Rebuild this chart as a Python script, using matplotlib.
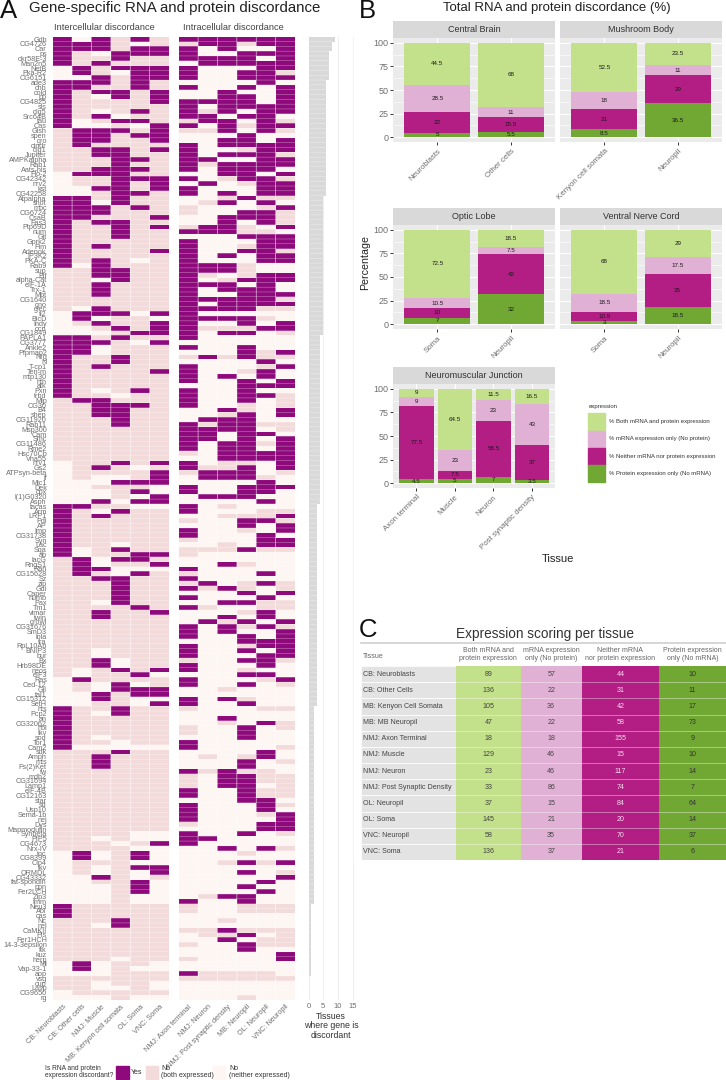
import numpy as np
import matplotlib
matplotlib.use("Agg")
from matplotlib import pyplot as plt
from matplotlib.colors import ListedColormap
from matplotlib.patches import Rectangle

plt.rcParams['font.family'] = ['Liberation Sans', 'DejaVu Sans']

W, H = 726, 1080

# ---- panel A data
genes = [
    "Gdh", "CG4726", "Car", "ps", "okr58E-3", "Man2n5", "NetB", "Pka-R2", "CG6151", "ade3",
    "chb", "cold", "pp", "CG4825", "sls", "dlg5", "Src64B", "tau", "Cas", "Gish",
    "spen", "gro", "cindr", "dlg1", "Jupiter", "AMPKalpha", "Rab1", "Aats-his", "Flo-2", "CG42342",
    "nrv2", "kst", "CG42258", "Atpalpha", "shot", "mbc", "CG6724", "CsaB", "Fas3", "Ptp69D",
    "num", "Git", "Gprk2", "Fim", "Adenok", "IP3K2", "PKA-C", "Rab9", "sup", "Elf",
    "alpha-Cat", "eIF-1A", "Trx-1", "Mbt", "CG1640", "gno", "glec", "fl2", "BicD", "Indy",
    "ocn", "CG1849", "PAPLA1", "CG3777", "Ankle2", "Pfpmap2", "Nrg", "N", "T-cp1", "Ten-m",
    "mtp130", "hth", "atk", "Pxn", "trbd", "Mlp", "CG30", "B4", "shep", "CG11920",
    "Rab11", "Msp300", "Cam", "Smc", "CG11486", "Rme2", "Hsc70Cb", "Vha55", "nrv1", "Gs2",
    "ATPsyn-beta", "if", "Mic1", "Dek", "cpx", "l(1)G0320", "Asph", "tacas", "Arm", "LRP1",
    "Pdi", "AP", "Imp", "CG31738", "Syn", "Lac", "Sqa", "ab", "lacG", "RngS1",
    "Ran", "CG15628", "Sz", "zip", "Gdi", "Caper", "numb", "Pax", "Tm1", "vimar",
    "twin", "growl", "CG31676", "SmD3", "lola", "fra", "RpL10Ab", "BNIP3", "bur", "Bx",
    "Hrb98DE", "neos", "eIF3", "Ras", "Ced-12", "Gil", "tal1", "CG15312", "SetH", "hts",
    "Pcp2", "an", "CG32062", "hbl", "fkv", "sod", "Tor1", "Cam2", "sdk", "Amph",
    "mts", "Fs(2)Ket", "fw", "mdh2", "CG31694", "Lamp1", "eIF-4B", "CG12163", "star", "sd",
    "Usp10", "Sema-1b", "nej", "Dys", "Mapmodulin", "Synbeta", "PIP5", "CG4673", "Nrx-IV", "tnc",
    "CG8399", "Cip4", "tkv", "ORMDL", "CG43332", "fat-spondin", "ppn", "Fer2LCH", "Zip3", "fmm",
    "Neu3", "Abl", "cas", "Nc", "nel", "CaMKII", "Pis", "Fer1HCH", "14-3-3epsilon", "ftk",
    "kuz", "herp", "Mi", "Vap-33-1", "aop", "vsg", "cup", "Lasp", "CG9650", "rg",
]

# Y = yes, B = no (both expressed), N = no (neither expressed); inter | intra
row_codes = [
    "YNYBYB YYYYYY", "YYYBNB BYYBYY", "YYYBYY YNYNNY", "YBNYYY YNNYYY", "YBBYBB YYYYNY",
    "YBYBBB NYYYYY", "NYBYYY YNNNYY", "NYBNYY YNNYYB", "NNYBYY YNNYYY", "YYYBYB NNNNYN",
    "YYBBYB YNNYNY", "YBYYBY NNYNNY", "YBNYBY NNYYNY", "YBBBBY YYYYNY", "YBBBBB YNYYYY",
    "YBNBYB YBYNYY", "YBYNBB YYNYYN", "YNBYYB BYYNYB", "YNNBNY YNYBYY", "BYYYBY BBYNYB",
    "BYYBYY NNNYNN", "BYYBBY NNYYNY", "BYBBBB YNYYYY", "BBYYBY YNNBYY", "BBYYBB YNYYYB",
    "BBBYYB YYNNYY", "BBBYBB YBYYYY", "BBYYYB YNYYYN", "NYYYBB NNYYNY", "NBBYYY YNBYYB",
    "NBBYBY NYNBYY", "NNYYBY YNNNYY", "NNBYYB YNYNYY", "YYBYBB NNBYBB", "YYNYBB NBYNYN",
    "YYYBYB BNNNBY", "YYYBBB BNNYYB", "YYBBBY NNYYYB", "YBYYBB NNYNYB", "YBBYBY BYYBNY",
    "YBBYBB YYYBBN", "YBBYBB NNNYYY", "YBBBBB YNNNYY", "YBYBBB YNNBYY", "YBBBBY YNNYYB",
    "YBBBBB YNYNYY", "YBYBNB YNNNYY", "YNYBBB YYYBNN", "BBYYBB YYYBNN", "BBYYBB YBNBYY",
    "BBNYBB YNBYYY", "BBYBBB YYYNYN", "BBYBBB YNYYYN", "BBYBBB YNNYYY", "BBBBBB YYYYYB",
    "BBBBBB YNYYYY", "BNYBBB YYYYBB", "NYYYNY YNNNNN", "NYNBBN YYYYBN", "NBYBBY YNNYNY",
    "NNBYBY YBBBYY", "NNNBYY YNYYNB", "YYBYBB YNNNNN", "YYYBNY NNNNNN", "YYNBBB YNNYNN",
    "YYNBBB NNNYBY", "YBBYBB BYBYBB", "YBBYBB NNNNYN", "YBYBBB YNNNBY", "YBBBBY YNNBYN",
    "YBBBBB YNYNYN", "YBBBBB YNNYNY", "YBBBBB NNNYYY", "YBNBYB YNNYNN", "YBBNBB YNNYYB",
    "BYYBBB YNNYNB", "BBYYYB YNNBNB", "BBYYBB NNYBNY", "BBYYBB NNBYNY", "BBBYBB NYYYNN",
    "BBBYBB YBYYBB", "BBBBBB YYYYNB", "BBBBBB YYNYYN", "BBBBBB YYNYNY", "BBBBBB YNYYBY",
    "BBBBBB YNYYNY", "BBBBBB BNYYYY", "BBBBBB NNYYYY", "NBBYBY YNBBNY", "NBYBNB YBBYNY",
    "NBBBBY BYYYNB", "NBNNBY NYYYBN", "NNNYYY NNNNYN", "NNBBBN YNNYYY", "NNNBYN YNNYYN",
    "NNNBNY NYYYNN", "NNYNYY NNNNYN", "YYBBNN YNBNNN", "YBNYBB YNNNBB", "YBYBBB NNBBBY",
    "YBBBBB BNNYYB", "YBBBBB NNNYNY", "YBBBBB YNNBNY", "YBBBBB YNNNYN", "YBBBBB BNNNYY",
    "YBBNBB NNBNYY", "YNBYBB BBBYBB", "YNBBYY BNNNNN", "BYNYYB NNNNNN", "BYNBBY NNYBNN",
    "BYYNNN YNNNNN", "BYBNYB BNNNYN", "BBYYBB YNNNNN", "BBBYBB BYNBYB", "BBBYBB YBYBNB",
    "BBBYBB NNNYNY", "BBBYBB YNNNYN", "BBNYBB NNYYBB", "BBBBYB YBNNBB", "BBYBBY NNNBYN",
    "BBYBBB NNYNYN", "BBBBBB NYBYNY", "BBBBBB YNYBYB", "BBBBBB YNYNNY", "BBBBBB YNNYNY",
    "BBBBBB NNNYYY", "BBBBBB YNNBYY", "BBNBBB YNNYNY", "BBNBBB YNNNYY", "BBYNBB BNNYYB",
    "BBYNBB YNNNYN", "BNBYBY YNNBNN", "BNBBYN NNNYYN", "NYBBBB YNNNBY", "NBNYNB YNNYNB",
    "NBNYYY NNBNNN", "NNYBYY NNNNNN", "NNYBNN YNYBNN", "NNBBNY YNNYNN", "YBBYBB BNNNBB",
    "YBNYBB NNNNNN", "YBBBBB NNYNNN", "YBBBBB NNBNYB", "YBBBBB BNNYNB", "YBBBBB BNNYNN",
    "YBNBBB NNNYNN", "YBBNBB YNNNNN", "YNNNNN YNNNNB", "BBBYBB NNNNYN", "BBYBBB NBNBYN",
    "BBYBBB NNNYNB", "BBYBBB NNNYNN", "BBBBBB YBYBBN", "BBBBBB BNYYBB", "BBBBBB BNYYBB",
    "BBBBBB BNYYNB", "BBBBBB YNNYBB", "BBBBBB YNNYBB", "BBBBBB NNNYYN", "BBBBBB YNNNYB",
    "BBBBBB YNNNYN", "BBBBBB YNNNBY", "BBBBBB YNNNNY", "BBBBBB BNNNYY", "BBBBBB NNNNYY",
    "BBBBNN YNNYNB", "BBNBNN YYNNNN", "BBBNBY YNNNNN", "BBBBNN NNYNYB", "NYNBYN NNNBNN",
    "NYNBYN NNNNNN", "NBBBNN NNBYBY", "NBNBYY NNNNNN", "NBNBNY NNNYNB", "NNYBNB NNNNNY",
    "NNBBYN NNNNYN", "NNNBYN NNNYNN", "NNNBYN NNNNYN", "NNNBNN NBYYNN", "NNNBNN YNNYNN",
    "YBBBBB BNNBBB", "YBBBBB BNNBBB", "YBBBBB NNNNNN", "BBBYBB NNBNNN", "BBNYBB NNNNNN",
    "BBBBBB BBYBBB", "BBBBBB NBBYNB", "BBBBBB NNYNBB", "BBBBBB BNNYBB", "BBBBBB NNNYNN",
    "BBBBBB NNNNNY", "BBBNBB BNNNNY", "NYNBBN NNNNNN", "NYNBNN NNNNNN", "NNNBBB YBBBBN",
    "BBBBBB BBBBBB", "BBNBBN NNNNNN", "BBNNBN NNNNNN", "NBBBBB NNNNNN", "NNNBNN NNNBNN",
]

inter_labels = ["CB: Neuroblasts", "CB: Other cells", "NMJ: Muscle", "MB: Kenyon cell somata",
                "OL: Soma", "VNC: Soma"]
intra_labels = ["NMJ: Axon terminal", "NMJ: Neuron", "NMJ: Post synaptic density", "MB: Neuropil",
                "OL: Neuropil", "VNC: Neuropil"]

# how many tissues, how many genes in a row with that count
count_values = [9, 8, 7, 6, 5, 4, 3, 2, 1, 0]
count_genes = [1, 2, 6, 24, 29, 35, 42, 41, 15, 5]

# ---- panel B data
facet_names = ["Central Brain", "Mushroom Body", "Optic Lobe", "Ventral Nerve Cord", "Neuromuscular Junction"]
facet_tissues = [
    ["Neuroblasts", "Other cells"],
    ["Kenyon cell somata", "Neuropil"],
    ["Soma", "Neuropil"],
    ["Soma", "Neuropil"],
    ["Axon terminal", "Muscle", "Neuron", "Post synaptic density"],
]
pct_protein = [[5, 5.5], [8.5, 36.5], [7, 32], [3, 18.5], [4.5, 5, 7, 3.5]]
pct_neither = [[22, 15.5], [21, 29], [10, 42], [10.5, 35], [77.5, 7.5, 58.5, 37]]
pct_mrna = [[28.5, 11], [18, 11], [10.5, 7.5], [18.5, 17.5], [9, 23, 23, 43]]
pct_both = [[44.5, 68], [52.5, 23.5], [72.5, 18.5], [68, 29], [9, 64.5, 11.5, 16.5]]
expr_labels = ["% Both mRNA and protein expression", "% mRNA expression only (No protein)",
               "% Neither mRNA nor protein expression", "% Protein expression only (No mRNA)"]

# ---- panel C data
table_tissues = ["CB: Neuroblasts", "CB: Other Cells", "MB: Kenyon Cell Somata", "MB: MB Neuropil",
                 "NMJ: Axon Terminal", "NMJ: Muscle", "NMJ: Neuron", "NMJ: Post Synaptic Density",
                 "OL: Neuropil", "OL: Soma", "VNC: Neuropil", "VNC: Soma"]
table_both = [89, 136, 105, 47, 18, 129, 23, 33, 37, 145, 58, 136]
table_mrna = [57, 22, 36, 22, 18, 46, 46, 86, 15, 21, 35, 37]
table_neither = [44, 31, 42, 58, 155, 15, 117, 74, 84, 20, 70, 21]
table_protein = [10, 11, 17, 73, 9, 10, 14, 7, 64, 14, 37, 6]
table_heads = ["Both mRNA and\nprotein expression", "mRNA expression\nonly (No protein)",
               "Neither mRNA\nnor protein expression", "Protein expression\nonly (No mRNA)"]

# colours
PURPLE, PINK, PALE = "#8E0A7C", "#F4DBDB", "#FDF6F2"
C_BOTH, C_MRNA, C_NEITHER, C_PROT = "#C3E08B", "#E1B0D5", "#B21E84", "#71A834"
GREY_TXT = "#6E6E6E"

fig = plt.figure(figsize=(W / 100, H / 100), dpi=100, facecolor="white")


def px_axes(x0, y0, x1, y1):
    return fig.add_axes([x0 / W, 1 - y1 / H, (x1 - x0) / W, (y1 - y0) / H])


def px_text(x, y, s, **kw):
    kw.setdefault("va", "center")
    return fig.text(x / W, 1 - y / H, s, **kw)


# faint rule beside panels B and C
fig.add_artist(plt.Line2D([352.7 / W] * 2, [1 - 37 / H, 1 - 860 / H], color="#F3F3F3", lw=0.8))

# ---- panel A
code_map = {"Y": 2, "B": 1, "N": 0}
cmap = ListedColormap([PALE, PINK, PURPLE])
n_rows = len(genes)


def heat(ax, codes, labels):
    mat = np.array([[code_map[c] for c in s] for s in codes])
    ax.pcolormesh(np.arange(7), np.arange(n_rows + 1), mat, cmap=cmap, vmin=0, vmax=2)
    ax.hlines(np.arange(1, n_rows), 0, 6, color="white", lw=0.3, alpha=0.6, snap=False)
    ax.vlines(np.arange(1, 6), 0, n_rows, color="white", lw=0.45, alpha=0.8, snap=False)
    ax.set_ylim(n_rows, 0)
    ax.set_xlim(0, 6)
    for s in ax.spines.values():
        s.set_visible(False)
    ax.set_xticks(np.arange(6) + 0.5)
    ax.set_xticklabels(labels, rotation=45, ha="right", rotation_mode="anchor",
                       fontsize=5.2, color=GREY_TXT)
    ax.tick_params(axis="x", length=0, pad=2.5)


ax_inter = px_axes(52.7, 36.7, 169, 1000)
heat(ax_inter, [s.split()[0] for s in row_codes], inter_labels)
ax_inter.set_yticks(np.arange(n_rows) + 0.5)
ax_inter.set_yticklabels(genes, fontsize=5.2, color=GREY_TXT)
ax_inter.tick_params(axis="y", length=0, pad=4.2)

ax_intra = px_axes(178.7, 36.7, 295, 1000)
heat(ax_intra, [s.split()[1] for s in row_codes], intra_labels)
ax_intra.set_yticks([])

gene_counts = np.repeat(count_values, count_genes)
ax_bar = px_axes(304, 36.7, 354, 1000)
ax_bar.barh(np.arange(n_rows) + 0.5, gene_counts, height=1, color="#D9D9D9")
ax_bar.hlines(np.arange(1, n_rows), 0, gene_counts[1:], color="white", lw=0.3, alpha=0.6, snap=False)
ax_bar.set_ylim(n_rows, 0)
ax_bar.set_xlim(-1.54, 15.5)
ax_bar.set_xticks([0, 5, 10, 15])
ax_bar.set_yticks([])
ax_bar.grid(axis="x", color="#EFEFEF", lw=0.7)
ax_bar.set_axisbelow(True)
ax_bar.tick_params(axis="x", length=0, labelsize=5.5, labelcolor=GREY_TXT, pad=2)
for s in ax_bar.spines.values():
    s.set_visible(False)

px_text(0, 18, "A", fontsize=18.5, color="#111111", va="baseline")
px_text(29, 8, "Gene-specific RNA and protein discordance", fontsize=10.8, color="#222222")
px_text(54, 27, "Intercellular discordance", fontsize=6.7, color="#444444")
px_text(183.5, 27, "Intracellular discordance", fontsize=6.7, color="#444444")
px_text(331, 1026, "Tissues\nwhere gene is\ndiscordant", fontsize=6.3, color="#333333", ha="center",
        linespacing=1.05)

# legend under the heatmap
px_text(45, 1072, "Is RNA and protein\nexpression discordant?", fontsize=4.8, color="#333333", linespacing=1.05)
for x0, x1, col in [(116, 128.5, PURPLE), (146, 157.5, PINK), (213, 225, PALE)]:
    fig.add_artist(Rectangle((x0 / W, 1 - 1079 / H), (x1 - x0) / W, 13 / H, color=col,
                             transform=fig.transFigure))
px_text(131, 1073, "Yes", fontsize=5, color="#333333")
px_text(161, 1072, "No\n(both expressed)", fontsize=5, color="#333333", linespacing=1.1)
px_text(229, 1072, "No\n(neither expressed)", fontsize=5, color="#333333", linespacing=1.1)

# ---- panel B
facet_boxes = [(393.3, 38, 555, 142), (560.3, 38, 721.7, 142),
               (393.3, 225, 555, 329), (560.3, 225, 721.7, 329),
               (393.3, 384, 555, 488)]


def stacked(ax, i):
    n = len(facet_tissues[i])
    xs = np.arange(1, n + 1)
    bottom = np.zeros(n)
    for vals, col in [(pct_protein[i], C_PROT), (pct_neither[i], C_NEITHER),
                      (pct_mrna[i], C_MRNA), (pct_both[i], C_BOTH)]:
        ax.bar(xs, vals, bottom=bottom, width=0.9, color=col, zorder=3)
        for x, v, b in zip(xs, vals, bottom):
            ax.text(x, b + v / 2, f"{v:g}", ha="center", va="center", fontsize=4.5, color="#1A1A1A", zorder=4)
        bottom = bottom + np.array(vals)
    ax.set_xlim(0.4, n + 0.6)
    ax.set_ylim(-5, 105)
    ax.set_facecolor("#EBEBEB")
    ax.set_yticks([0, 25, 50, 75, 100])
    ax.set_yticks([12.5, 37.5, 62.5, 87.5], minor=True)
    ax.set_xticks(xs)
    ax.set_xticklabels(facet_tissues[i], rotation=45, ha="right", rotation_mode="anchor",
                       fontsize=5.7, color=GREY_TXT)
    ax.grid(which="major", color="white", lw=0.8)
    ax.grid(which="minor", axis="y", color="white", lw=0.4)
    ax.tick_params(which="minor", length=0)
    ax.tick_params(axis="x", length=2.2, width=0.7, color="#333333", pad=2)
    if i % 2 == 0:
        ax.tick_params(axis="y", length=2.2, width=0.7, color="#333333", labelsize=6.5,
                       labelcolor=GREY_TXT, pad=1.5)
    else:
        ax.tick_params(axis="y", which="both", length=0, labelleft=False)
    ax.set_axisbelow(True)
    for s in ax.spines.values():
        s.set_visible(False)


for i, box in enumerate(facet_boxes):
    x0, y0, x1, y1 = box
    ax = px_axes(x0, y0, x1, y1)
    stacked(ax, i)
    strip = px_axes(x0, y0 - 17.3, x1, y0)
    strip.set_facecolor("#D9D9D9")
    strip.set_xticks([])
    strip.set_yticks([])
    for s in strip.spines.values():
        s.set_visible(False)
    strip.text(0.5, 0.47, facet_names[i], transform=strip.transAxes, ha="center", va="center",
               fontsize=6.5, color="#333333")

px_text(359, 18, "B", fontsize=18.5, color="#111111", va="baseline")
px_text(442.7, 8, "Total RNA and protein discordance (%)", fontsize=9.5, color="#222222")
px_text(365, 263, "Percentage", fontsize=7.7, rotation=90, ha="center", color="#222222")
px_text(557.7, 559, "Tissue", fontsize=8, ha="center", color="#222222")

# bar legend
px_text(588.3, 406.7, "expression", fontsize=4.3, color="#333333")
for k, (lab, col) in enumerate(zip(expr_labels, [C_BOTH, C_MRNA, C_NEITHER, C_PROT])):
    top = 413.3 + k * 17.35
    fig.add_artist(Rectangle((588.3 / W, 1 - (top + 16.6) / H), 16.6 / W, 16.6 / H, color=col,
                             transform=fig.transFigure))
    px_text(609, top + 8.3, lab, fontsize=4.3, color="#333333")

# ---- panel C
px_text(359, 637, "C", fontsize=18.5, color="#111111", va="baseline")
px_text(456, 634, "Expression scoring per tissue", fontsize=9.8, color="#333333")

ax_tab = px_axes(360.7, 643.3, 726, 860)
ax_tab.set_xlim(360.7, 726)
n_tab = len(table_tissues)
head_h = 1.41
ax_tab.set_ylim(n_tab, -head_h)
ax_tab.axis("off")
col_edges = [456, 520.7, 581.7, 659, 726]
col_cols = [C_BOTH, C_MRNA, C_NEITHER, C_PROT]
col_txt = ["#444444", "#444444", "#F4DDEE", "#333333"]
col_vals = [table_both, table_mrna, table_neither, table_protein]

ax_tab.plot([360.7, 726], [-head_h, -head_h], color="#D0D0D0", lw=1.2, clip_on=False)
ax_tab.text(363, -0.62, "Tissue", fontsize=5, color="#666666", va="center")
for r, name in enumerate(table_tissues):
    ax_tab.add_patch(Rectangle((360.7, r), 456 - 360.7, 1, facecolor="#E3E3E3", edgecolor="white", lw=0.5))
    ax_tab.text(363, r + 0.5, name, fontsize=5.1, color="#444444", va="center")
    for c in range(4):
        ax_tab.add_patch(Rectangle((col_edges[c], r), col_edges[c + 1] - col_edges[c], 1,
                                   facecolor=col_cols[c], edgecolor="none"))
        ax_tab.text((col_edges[c] + col_edges[c + 1]) / 2, r + 0.5, str(col_vals[c][r]), fontsize=5.1,
                    color=col_txt[c], ha="center", va="center")
for r in range(1, n_tab):
    ax_tab.plot([360.7, 726], [r, r], color="white", lw=0.5, alpha=0.55)
for c in range(4):
    ax_tab.text((col_edges[c] + col_edges[c + 1]) / 2, -0.7, table_heads[c], fontsize=5, color="#666666",
                ha="center", va="center", linespacing=1.15)

assert len(genes) == len(row_codes)
fig.savefig("out.png", dpi=100)
